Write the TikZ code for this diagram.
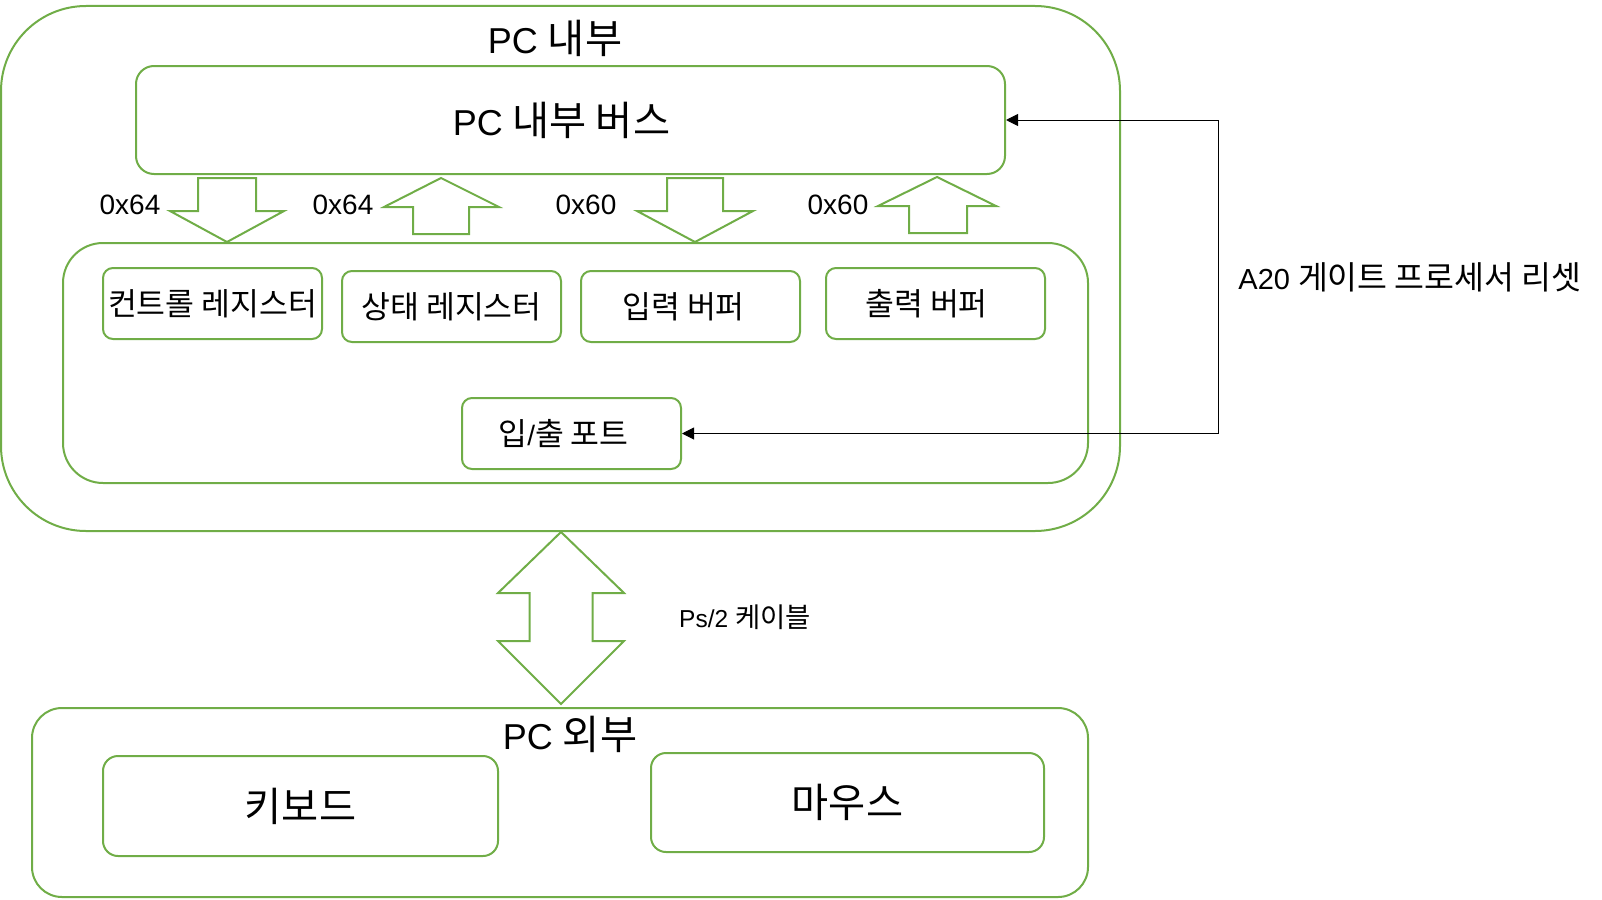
\documentclass[tikz,border=0pt]{standalone}
\usepackage{fontspec}
\setmainfont{Liberation Sans}
\newfontfamily\kr[Scale=1.12]{Noto Sans CJK KR}
\usetikzlibrary{arrows.meta, positioning}
\definecolor{boxgreen}{HTML}{70AD47}
\newcommand{\fsz}[1]{\fontsize{#1}{#1}\selectfont}

\begin{document}
\begin{tikzpicture}[x=1pt, y=-1pt,
    grpbox/.style={draw=boxgreen, line width=2pt, inner sep=0pt},
    regbox/.style={draw=boxgreen, line width=2pt, rounded corners=10pt, minimum width=219pt, minimum height=71pt, inner sep=0pt, font=\fsz{28}},
    devbox/.style={draw=boxgreen, line width=2pt, rounded corners=15pt, minimum height=100pt, inner sep=0pt, font=\fsz{36}},
    blockarrow/.style={draw=boxgreen, line width=2pt, line join=miter},
    grptitle/.style={font=\fsz{36}, inner sep=0pt},
    hexlbl/.style={font=\fsz{28}, inner sep=0pt},
    link/.style={line width=1pt, {Triangle[length=12pt,width=12pt]}-{Triangle[length=12pt,width=12pt]}}
]
    \useasboundingbox (0,0) rectangle (1602,899);

    % PC inside
    \node[grpbox, rounded corners=85pt, minimum width=1119pt, minimum height=525pt] (pcin) at (560.5,268.5) {};
    \node[grptitle] (pcintitle) at (555,38) {PC {\kr 내부}};
    \node[grpbox, rounded corners=18pt, minimum width=869pt, minimum height=108pt, font=\fsz{36}] (bus) at (570.5,120) {PC {\kr 내부 버스}\hspace*{18pt}};
    \node[grpbox, rounded corners=40pt, minimum width=1025pt, minimum height=240pt] (ctrl) at (575.5,363) {};

    % registers and buffers
    \node[regbox] (ctlreg) at (212.5,303.5) {\kr 컨트롤 레지스터};
    \node[regbox] (streg) at (451.5,306.5) {\kr 상태 레지스터};
    \node[regbox] (inbuf) at (690.5,306.5) {{\kr 입력 버퍼}\hspace*{14pt}};
    \node[regbox] (outbuf) at (935.5,303.5) {{\kr 출력 버퍼}\hspace*{18pt}};
    \node[regbox] (port) at (571.5,433.5) {{\kr 입}/{\kr 출 포트}\hspace*{16pt}};

    % port arrows
    \draw[blockarrow] (198,178) -- (256,178) -- (256,211) -- (284,211) -- (227,242) -- (170,211) -- (198,211) -- cycle;
    \draw[blockarrow] (441,178) -- (499,207) -- (469,207) -- (469,234) -- (413,234) -- (413,207) -- (384,207) -- cycle;
    \draw[blockarrow] (667,178) -- (723,178) -- (723,211) -- (753,211) -- (695,242) -- (637,211) -- (667,211) -- cycle;
    \draw[blockarrow] (937,177) -- (996,206) -- (967,206) -- (967,233) -- (909,233) -- (909,206) -- (878,206) -- cycle;

    \node[hexlbl] (hexa) at (130,205) {0x64};
    \node[hexlbl] (hexb) at (343,205) {0x64};
    \node[hexlbl] (hexc) at (586,205) {0x60};
    \node[hexlbl] (hexd) at (838,205) {0x60};

    % A20 reset line
    \coordinate (turn) at (1218,120);
    \draw[link] (bus.east) -- (turn) |- (port.east);
    \node[font=\fsz{29}, inner sep=0pt] (a20) at (1410,277) {A20 {\kr 게이트 프로세서 리셋}};

    % Ps/2 cable
    \draw[blockarrow] (561,532) -- (624,593) -- (592.5,593) -- (592.5,641) -- (624,641) -- (561,704) -- (498,641) -- (529.5,641) -- (529.5,593) -- (498,593) -- cycle;
    \node[font=\fsz{24.5}, inner sep=0pt] (cable) at (745,617) {Ps/2 {\kr 케이블}};

    % PC outside
    \node[grpbox, rounded corners=30pt, minimum width=1056pt, minimum height=189pt] (pcout) at (560,802.5) {};
    \node[grptitle] (pcouttitle) at (570,734) {PC {\kr 외부}};
    \node[devbox, minimum width=395pt] (kbd) at (300.5,806) {\kr 키보드};
    \node[devbox, minimum width=393pt, minimum height=99pt] (mouse) at (847.5,802.5) {\kr 마우스};
\end{tikzpicture}
\end{document}
